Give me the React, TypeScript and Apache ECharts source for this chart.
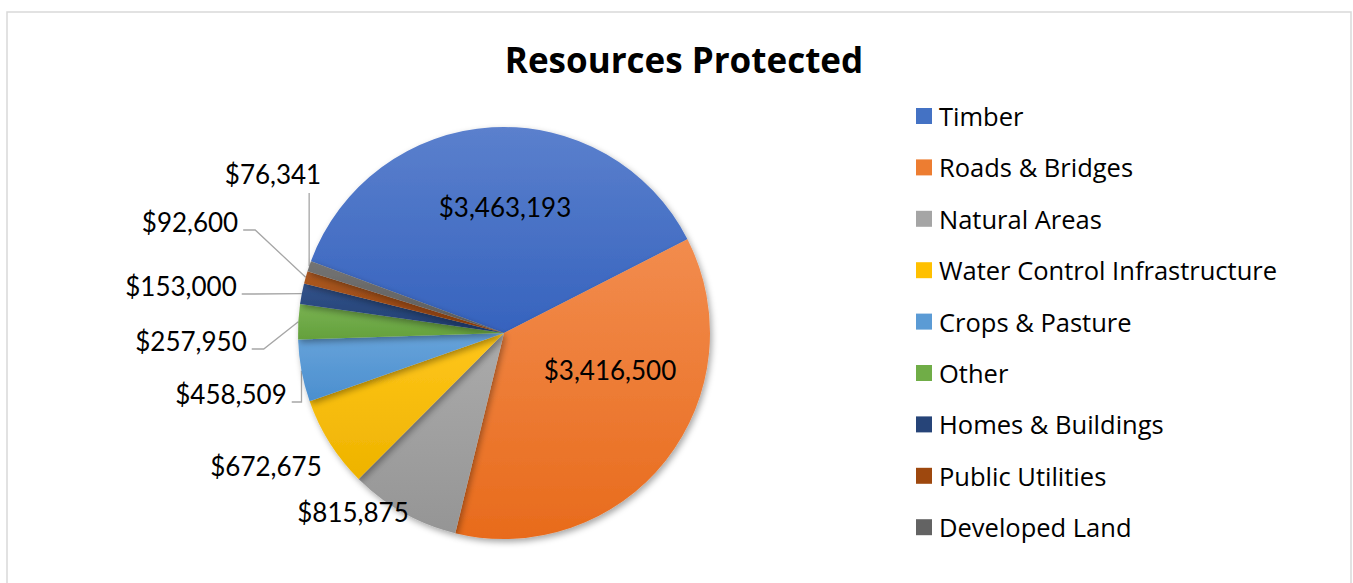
import React, { useEffect, useRef } from "react";
import * as echarts from "echarts";

const TITLE = "Resources Protected";
const categories = [
  "Timber",
  "Roads & Bridges",
  "Natural Areas",
  "Water Control Infrastructure",
  "Crops & Pasture",
  "Other",
  "Homes & Buildings",
  "Public Utilities",
  "Developed Land",
];
const values = [3463193, 3416500, 815875, 672675, 458509, 257950, 153000, 92600, 76341];

const topColors = ["#5b80cd", "#f28c4e", "#ababab", "#ffc61a", "#67a3da", "#79b352", "#33548c", "#ad5a22", "#747474"];
const bottomColors = ["#3663be", "#e86b1c", "#959595", "#eeb300", "#4b8fcf", "#64a03c", "#203d70", "#93400b", "#5a5a5a"];
const legendColors = ["#4472c4", "#ed7d31", "#a5a5a5", "#ffc000", "#5b9bd5", "#70ad47", "#264478", "#9e480e", "#636363"];

// label placement (center of text, px) and leader style
const labelCenters: [number, number][] = [
  [505, 207],
  [610, 370],
  [353, 512],
  [266, 466],
  [231, 394],
  [191, 341],
  [181, 286],
  [190, 222],
  [273, 174],
];
// leader kinds: none | horiz (label right side) | down (label bottom)
const leaderKind = ["none", "none", "none", "none", "horiz", "horiz", "horiz", "horiz", "down"];

const fmt = (v: number) => "$" + v.toLocaleString("en-US");

export default function App() {
  const ref = useRef<HTMLDivElement>(null);
  useEffect(() => {
    if (!ref.current) return;
    const chart = echarts.init(ref.current, null, { renderer: "svg" });
    const data = values.map((v, i) => ({
      name: categories[i],
      value: v,
      itemStyle: {
        color: new echarts.graphic.LinearGradient(0, 0, 0, 1, [
          { offset: 0, color: topColors[i] },
          { offset: 1, color: bottomColors[i] },
        ]),
      },
      label: { position: i < 2 ? "inside" : "outside" },
      labelLine: { show: leaderKind[i] !== "none" },
    }));
    chart.setOption({
      animation: false,
      backgroundColor: "#ffffff",
      title: {
        text: TITLE,
        left: 679,
        top: 37,
        textAlign: "center",
        textStyle: { fontFamily: "Open Sans", fontWeight: "bold", fontSize: 35, color: "#000000" },
      },
      graphic: [
        {
          type: "rect",
          shape: { x: 7, y: 12, width: 1344, height: 620 },
          style: { fill: "none", stroke: "#d9d9d9", lineWidth: 1.5 },
          silent: true,
        },
      ],
      legend: {
        orient: "vertical",
        left: 911,
        top: 96,
        itemWidth: 16,
        itemHeight: 16,
        itemGap: 21.4,
        icon: "rect",
        data: categories.map((c, i) => ({ name: c, itemStyle: { color: legendColors[i] } })),
        textStyle: {
          fontFamily: "Open Sans",
          fontSize: 25.5,
          lineHeight: 30,
          color: "#000000",
          padding: [0, 0, 0, 2],
        },
      },
      series: [
        {
          type: "pie",
          center: [504, 333],
          radius: 206,
          startAngle: 159.6,
          clockwise: true,
          avoidLabelOverlap: false,
          data,
          itemStyle: {
            shadowBlur: 6,
            shadowOffsetX: 2,
            shadowOffsetY: 3,
            shadowColor: "rgba(0,0,0,0.35)",
          },
          label: {
            show: true,
            formatter: (p: any) => fmt(p.value),
            fontFamily: "Lato",
            fontSize: 26,
            color: "#000000",
          },
          labelLine: { lineStyle: { color: "#a6a6a6", width: 1.3 } },
          labelLayout: (p: any) => {
            const i = p.dataIndex;
            const [cx, cy] = labelCenters[i];
            const out: any = { x: cx, y: cy, align: "center", verticalAlign: "middle" };
            const kind = leaderKind[i];
            const pts = p.labelLinePoints;
            if (kind !== "none" && pts && pts.length) {
              const p0 = pts[0];
              const w = p.labelRect.width;
              const h = p.labelRect.height;
              if (kind === "horiz") {
                const sx = cx + w / 2 + 5;
                const sy = cy + 8;
                out.labelLinePoints = [
                  [p0[0], p0[1]],
                  [Math.min(sx + 12, p0[0]), sy],
                  [sx, sy],
                ];
              } else {
                const by = cy + h / 2 + 6;
                out.labelLinePoints = [
                  [p0[0], p0[1]],
                  [p0[0], by],
                  [p0[0], by],
                ];
              }
            }
            return out;
          },
        },
      ],
    });
    return () => chart.dispose();
  }, []);
  return (
    <div
      ref={ref}
      style={{ position: "fixed", left: 0, top: 0, width: 1353, height: 583, background: "#fff" }}
    />
  );
}
